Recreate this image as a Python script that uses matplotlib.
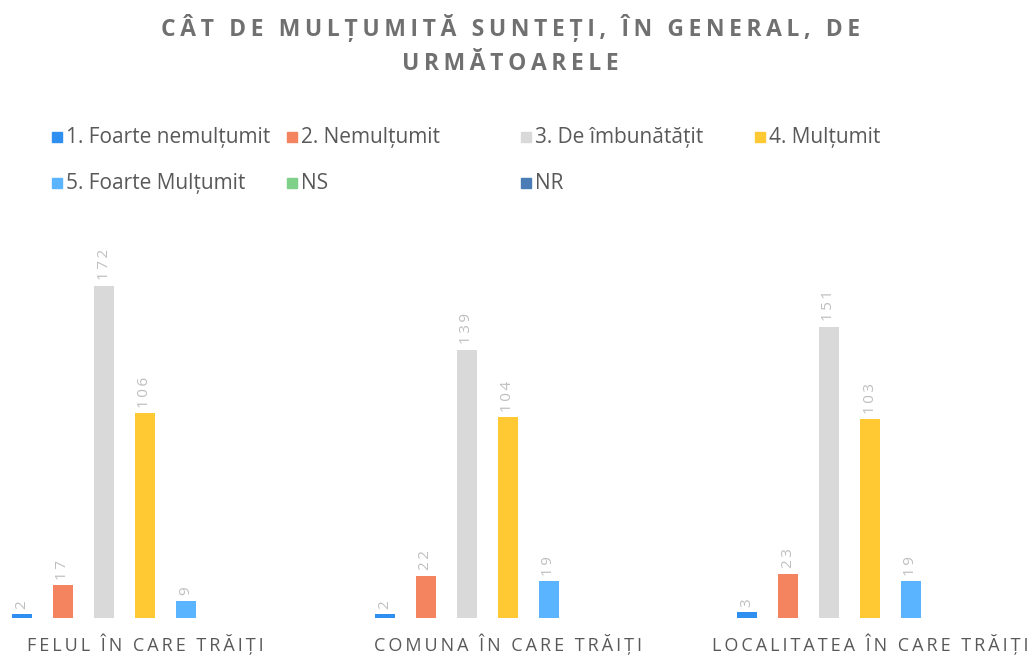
import numpy as np
import matplotlib
matplotlib.use("Agg")
import matplotlib.pyplot as plt
from matplotlib.patches import Rectangle

plt.rcParams['font.family'] = ['Open Sans', 'DejaVu Sans']

# data
groups = ["FELUL ÎN CARE TRĂIȚI", "COMUNA ÎN CARE TRĂIȚI", "LOCALITATEA ÎN CARE TRĂIȚI"]
series = ["1. Foarte nemulțumit", "2. Nemulțumit", "3. De îmbunătățit", "4. Mulțumit",
          "5. Foarte Mulțumit", "NS", "NR"]
foarte_nemultumit = [2, 2, 3]
nemultumit = [17, 22, 23]
de_imbunatatit = [172, 139, 151]
multumit = [106, 104, 103]
foarte_multumit = [9, 19, 19]
ns = [0, 0, 0]
nr = [0, 0, 0]
values = [foarte_nemultumit, nemultumit, de_imbunatatit, multumit, foarte_multumit, ns, nr]
colors = ["#2E8FF0", "#F4845F", "#D9D9D9", "#FFC933", "#5AB4FF", "#7FD18A", "#4A7DB5"]
title = "CÂT DE MULȚUMITĂ SUNTEȚI, ÎN GENERAL, DE\nURMĂTOARELE"


def spaced(s):
    # letter spacing like the original (thin space between characters)
    return "\n".join("\u2009".join(line) for line in s.split("\n"))


txt = "#595959"
fig = plt.figure(figsize=(10.36, 6.56), dpi=100)
ax = fig.add_axes([0, 38 / 656, 1, 390 / 656])

x = np.arange(len(groups))
step = 41 / 362.5
width = 20 / 362.5
for k, (vals, c) in enumerate(zip(values, colors)):
    pos = x + (k - 3) * step
    ax.bar(pos, vals, width, color=c, zorder=2)
    for p, v in zip(pos, vals):
        if v > 0:
            ax.annotate(spaced(str(v)), (p, v), xytext=(0, 4), textcoords="offset points",
                        rotation=90, ha="center", va="bottom", fontsize=11, color="#BFBFBF")

ax.set_xlim(-145 / 362.5, (1036 - 145) / 362.5)
ax.set_ylim(0, 390 / 1.93)
ax.set_xticks(x)
ax.set_xticklabels([spaced(g) for g in groups], fontsize=13, color=txt)
ax.tick_params(axis="x", length=0, pad=11)
ax.set_yticks([])
for s in ax.spines.values():
    s.set_visible(False)

fig.text(0.493, 1 - 45 / 656, spaced(title),
         ha="center", va="center", fontsize=16.5, fontweight="bold", color="#707070",
         linespacing=1.6)

# legend laid out in a fixed grid like the original
leg_x = [52, 287, 521, 755]
leg_y = [137, 183]
for i, (name, c) in enumerate(zip(series, colors)):
    row, col = divmod(i, 4)
    px, py = leg_x[col], leg_y[row]
    fig.patches.append(Rectangle((px / 1036, 1 - (py + 5) / 656), 10 / 1036, 10 / 656,
                                 transform=fig.transFigure, color=c))
    fig.text((px + 14) / 1036, 1 - py / 656, name, ha="left", va="center",
             fontsize=15, color=txt)

fig.savefig("out.png", dpi=100)
